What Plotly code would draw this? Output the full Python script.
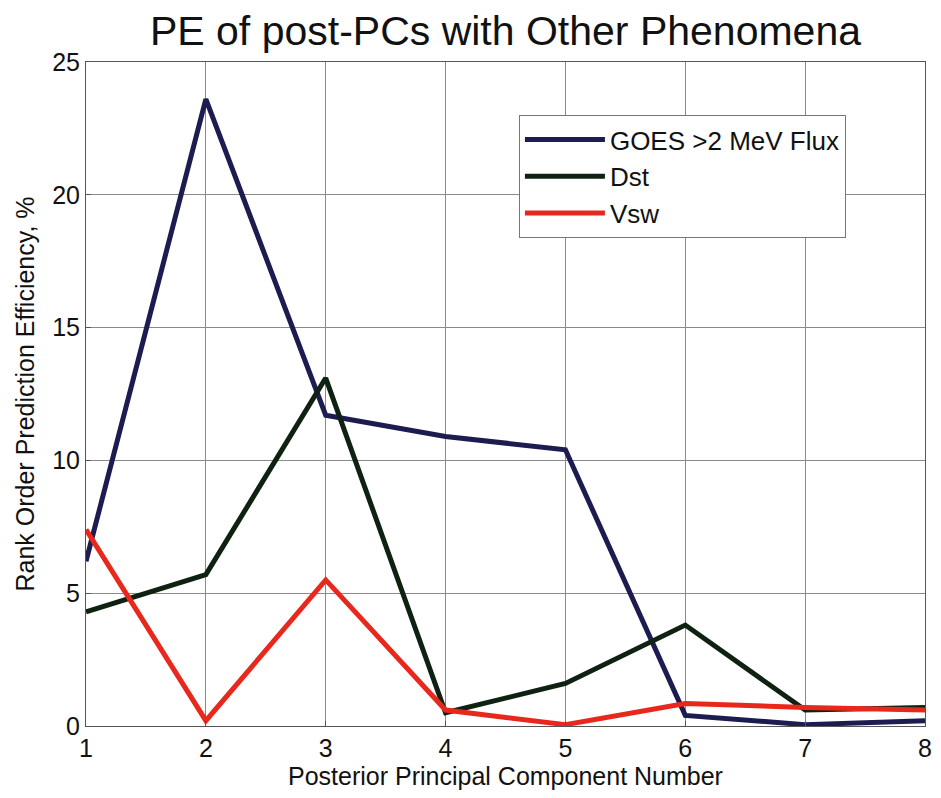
import plotly.graph_objects as go

# posterior principal component number
pc_number = [1, 2, 3, 4, 5, 6, 7, 8]

# rank order prediction efficiency, %
goes_flux = [6.2, 23.6, 11.7, 10.9, 10.4, 0.4, 0.05, 0.2]
dst = [4.3, 5.7, 13.1, 0.5, 1.6, 3.8, 0.6, 0.7]
vsw = [7.4, 0.2, 5.5, 0.6, 0.05, 0.85, 0.7, 0.6]

fig = go.Figure()
fig.add_trace(go.Scatter(x=pc_number, y=goes_flux, mode="lines", name="GOES >2 MeV Flux",
                         line=dict(color="#1c1c50", width=5)))
fig.add_trace(go.Scatter(x=pc_number, y=dst, mode="lines", name="Dst",
                         line=dict(color="#0f2212", width=5)))
fig.add_trace(go.Scatter(x=pc_number, y=vsw, mode="lines", name="Vsw",
                         line=dict(color="#e8281c", width=5)))

axis_style = dict(showgrid=True, gridcolor="#8a8a8a", gridwidth=1,
                  showline=True, linecolor="#555555", linewidth=1, mirror=True,
                  ticks="inside", ticklen=5, tickcolor="#555555", automargin=False,
                  tickfont=dict(size=25, color="#111111"), zeroline=False)

# page body has an 8px margin, so the figure is offset by that
fig.update_layout(
    width=933, height=782,
    margin=dict(l=78, r=16, t=54, b=64),
    paper_bgcolor="white", plot_bgcolor="white",
    font=dict(family="Liberation Sans, Arial", color="#111111"),
    title=dict(text="PE of post-PCs with Other Phenomena", font=dict(size=41),
               x=0.5, xref="paper", xanchor="center", y=0.971, yanchor="middle"),
    xaxis=dict(axis_style, range=[1, 8], tickvals=pc_number,
               title=dict(text="Posterior Principal Component Number", font=dict(size=25), standoff=4)),
    yaxis=dict(axis_style, range=[0, 25], tickvals=[0, 5, 10, 15, 20, 25],
               title=dict(text="Rank Order Prediction Efficiency, %", font=dict(size=25), standoff=10)),
    legend=dict(x=0.516, y=0.92, xanchor="left", yanchor="top",
                bgcolor="white", bordercolor="#777777", borderwidth=1,
                font=dict(size=26), itemwidth=80, tracegroupgap=0),
)

fig.write_html("out.html")
